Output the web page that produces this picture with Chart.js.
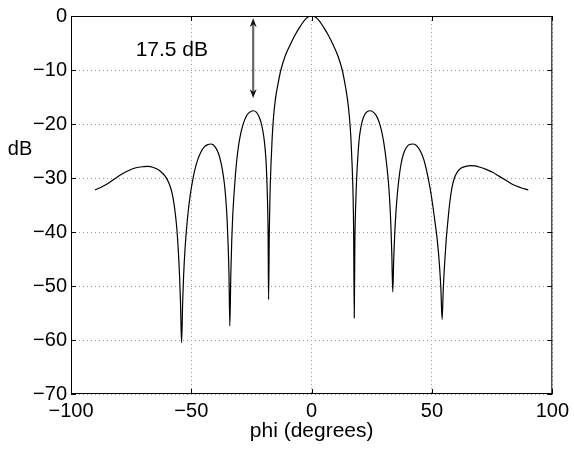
<!DOCTYPE html>
<html>
<head>
<meta charset="utf-8">
<script src="https://cdn.jsdelivr.net/npm/chart.js@4/dist/chart.umd.min.js"></script>
<style>
  html, body { margin: 0; padding: 0; background: #fff; }
  #wrap { width: 574px; height: 449px; }
</style>
</head>
<body>
<div id="wrap"><canvas id="myChart" width="574" height="449"></canvas></div>
<script>
// beam pattern (phi in degrees, level in dB)
var phi = [-90, -87.5, -85, -82, -79, -76, -73, -70, -68, -66, -64, -62.5, -61, -60, -59, -58, -57.3, -56.6, -56.0, -55.4, -54.9, -54.5, -54.05,
  -53.6, -53.2, -52.6, -52.0, -51.3, -50.5, -49.6, -48.6, -47.4, -46.0, -44.5, -43.0, -42.0, -40.8, -39.6, -38.6, -37.7, -36.9, -36.2, -35.6, -35.1, -34.7, -34.35, -34.0,
  -33.6, -33.2, -32.8, -32.3, -31.7, -31.0, -30.2, -29.3, -28.3, -27.2, -26.0, -24.3, -23.0, -22.0, -21.1, -20.3, -19.6, -19.0, -18.6, -18.3, -18.1, -17.9,
  -17.6, -17.3, -16.9, -16.4, -15.8, -15.0, -14.0, -12.8, -11.0, -9.0, -7.0, -5.0, -3.0, -1.5, 0,
  1.5, 3.0, 5.0, 7.0, 9.0, 11.0, 12.7, 13.9, 14.9, 15.7, 16.3, 16.8, 17.2, 17.45, 17.7,
  17.95, 18.3, 18.7, 19.2, 19.8, 20.6, 21.5, 22.6, 24.2, 25.6, 26.8, 27.9, 28.9, 29.8, 30.6, 31.3, 31.9, 32.4, 32.9, 33.3, 33.7,
  34.1, 34.5, 35.0, 35.6, 36.3, 37.1, 38.1, 39.3, 40.6, 42.0, 43.3, 44.5, 45.6, 46.6, 47.6, 48.5, 49.4, 50.3, 51.2, 52.2, 53.0, 53.7, 54.2,
  54.7, 55.3, 55.9, 56.6, 57.4, 58.3, 59.3, 60.5, 62.0, 64.0, 66.0, 68.0, 70.0, 72.5, 75.0, 78.0, 81.0, 84.0, 87.0, 90.0];
var dB = [-32.2, -31.7, -31.1, -30.2, -29.3, -28.6, -28.1, -27.9, -27.85, -28.0, -28.4, -28.9, -29.6, -30.3, -31.3, -32.8, -34.5, -36.8, -39.5, -43.5, -48, -53, -60.5,
  -53, -48, -43, -39.5, -36.2, -33.3, -30.8, -28.6, -26.7, -25.2, -24.2, -23.8, -23.7, -23.9, -24.6, -25.6, -27.1, -29.0, -31.3, -34.3, -38, -42.5, -48, -57.4,
  -48, -41.5, -37, -33.3, -29.5, -26.2, -23.5, -21.4, -19.8, -18.6, -17.9, -17.55, -17.8, -18.5, -19.6, -21.2, -23.4, -26.5, -30.5, -35, -40, -52.5,
  -40, -33, -27.5, -22.5, -18.5, -15.2, -12.6, -10.0, -7.4, -5.4, -3.6, -2.1, -0.8, -0.2, 0,
  -0.2, -0.8, -2.1, -3.6, -5.4, -7.5, -10.0, -12.7, -15.5, -18.8, -22.5, -27.5, -33, -40, -55.9,
  -42, -35, -30, -26, -22.6, -20.3, -18.8, -17.9, -17.55, -17.8, -18.4, -19.5, -21.0, -23.0, -25.4, -28.0, -30.8, -34, -38.5, -44, -51.1,
  -45, -40.5, -36.5, -33.0, -30.0, -27.5, -25.6, -24.4, -23.8, -23.7, -23.9, -24.5, -25.4, -26.6, -28.3, -30.2, -32.4, -35.0, -38.0, -41.5, -45.5, -50.5, -56.2,
  -50.5, -45.5, -41.5, -38.0, -34.5, -31.8, -30.0, -28.9, -28.2, -27.85, -27.7, -27.75, -28.0, -28.4, -28.9, -29.7, -30.5, -31.3, -31.8, -32.2];

var xTicks = [-100, -50, 0, 50, 100];
var yTicks = [-70, -60, -50, -40, -30, -20, -10, 0];

var sidelobeText = '17.5 dB';
var arrowPhi = -24.3;
var arrowTop = -0.4, arrowBottom = -15.2;
var textPhi = -58.1, textDb = -6.3;

var pts = [];
for (var i = 0; i < phi.length; i++) pts.push({x: phi[i], y: dB[i]});

var FONT = 'Liberation Sans, Arial, Helvetica, sans-serif';

function minus(v) { return String(v).replace('-', '\u2212'); }

function arrowHead(ctx, x, y, dir) {
  ctx.beginPath();
  ctx.moveTo(x, y);
  ctx.lineTo(x - 3.5, y - dir * 9);
  ctx.lineTo(x, y - dir * 6);
  ctx.lineTo(x + 3.5, y - dir * 9);
  ctx.closePath();
  ctx.fill();
}

// frame, inward ticks, dB label, the 17.5 dB annotation
var extras = {
  id: 'extras',
  afterDraw: function(chart) {
    var ctx = chart.ctx, ca = chart.chartArea;
    var xs = chart.scales.x, ys = chart.scales.y;
    ctx.save();
    ctx.strokeStyle = '#000';
    ctx.lineWidth = 1;
    ctx.strokeRect(ca.left + 0.5, ca.top + 0.5, ca.right - ca.left - 1, ca.bottom - ca.top - 1);
    ctx.beginPath();
    xTicks.forEach(function(v) {
      var px = Math.round(xs.getPixelForValue(v)) + 0.5;
      ctx.moveTo(px, ca.bottom); ctx.lineTo(px, ca.bottom - 5);
      ctx.moveTo(px, ca.top); ctx.lineTo(px, ca.top + 5);
    });
    yTicks.forEach(function(v) {
      var py = Math.round(ys.getPixelForValue(v)) + 0.5;
      ctx.moveTo(ca.left, py); ctx.lineTo(ca.left + 5, py);
      ctx.moveTo(ca.right, py); ctx.lineTo(ca.right - 5, py);
    });
    ctx.stroke();

    ctx.fillStyle = '#000';
    ctx.font = '20px ' + FONT;
    ctx.textAlign = 'center';
    ctx.textBaseline = 'alphabetic';
    ctx.fillText('dB', 20, 155);

    ctx.font = '21px ' + FONT;
    ctx.textBaseline = 'middle';
    ctx.fillText(sidelobeText, xs.getPixelForValue(textPhi), ys.getPixelForValue(textDb));

    var ax = xs.getPixelForValue(arrowPhi);
    var y1 = ys.getPixelForValue(arrowTop), y2 = ys.getPixelForValue(arrowBottom);
    ctx.strokeStyle = '#666';
    ctx.lineWidth = 2.2;
    ctx.beginPath();
    ctx.moveTo(ax, y1 + 6); ctx.lineTo(ax, y2 - 6);
    ctx.stroke();
    ctx.fillStyle = '#111';
    arrowHead(ctx, ax, y1, -1);
    arrowHead(ctx, ax, y2, 1);
    ctx.restore();
  }
};

var chart = new Chart(document.getElementById('myChart').getContext('2d'), {
  type: 'line',
  data: {
    datasets: [{
      data: pts,
      borderColor: '#000',
      borderWidth: 1.2,
      pointRadius: 0,
      fill: false,
      cubicInterpolationMode: 'monotone'
    }]
  },
  options: {
    responsive: false,
    animation: false,
    layout: { padding: { left: 0, top: 14, right: 21, bottom: 0 } },
    plugins: { legend: { display: false }, tooltip: { enabled: false } },
    scales: {
      x: {
        type: 'linear',
        min: -100, max: 100,
        afterFit: function(s) { s.height = 55; },
        afterBuildTicks: function(s) { s.ticks = xTicks.map(function(v) { return {value: v}; }); },
        grid: { color: '#9a9a9a', lineWidth: 1, drawTicks: false },
        border: { display: false, dash: [1, 3] },
        ticks: { color: '#000', font: { family: FONT, size: 20 }, padding: 5, maxRotation: 0, callback: minus },
        title: { display: true, text: 'phi (degrees)', color: '#000', font: { family: FONT, size: 21 }, padding: { top: 0, bottom: 5 } }
      },
      y: {
        type: 'linear',
        min: -70, max: 0,
        afterFit: function(s) { s.width = 71; },
        afterBuildTicks: function(s) { s.ticks = yTicks.map(function(v) { return {value: v}; }); },
        grid: { color: '#9a9a9a', lineWidth: 1, drawTicks: false },
        border: { display: false, dash: [1, 3] },
        ticks: { color: '#000', font: { family: FONT, size: 20 }, padding: 4, callback: minus }
      }
    }
  },
  plugins: [extras]
});
</script>
</body>
</html>
